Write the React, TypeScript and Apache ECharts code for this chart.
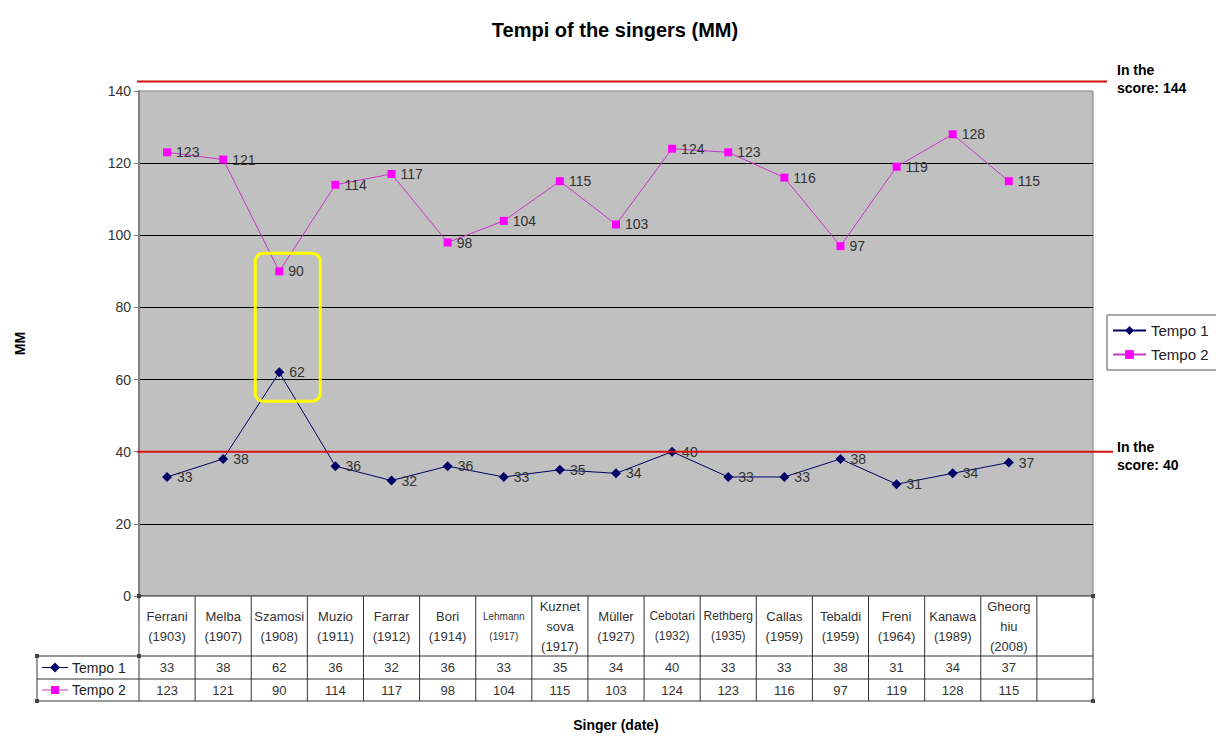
import React, { useEffect, useRef } from "react";
import * as echarts from "echarts";

const categories = [
  "Ferrani\n(1903)", "Melba\n(1907)", "Szamosi\n(1908)", "Muzio\n(1911)", "Farrar\n(1912)",
  "Bori\n(1914)", "Lehmann\n(1917)", "Kuznet\nsova\n(1917)", "Müller\n(1927)", "Cebotari\n(1932)",
  "Rethberg\n(1935)", "Callas\n(1959)", "Tebaldi\n(1959)", "Freni\n(1964)", "Kanawa\n(1989)",
  "Gheorg\nhiu\n(2008)", "",
];
const tempo1 = [33, 38, 62, 36, 32, 36, 33, 35, 34, 40, 33, 33, 38, 31, 34, 37];
const tempo2 = [123, 121, 90, 114, 117, 98, 104, 115, 103, 124, 123, 116, 97, 119, 128, 115];
const seriesNames = ["Tempo 1", "Tempo 2"];
const scoreTempi = [144, 40];
const scoreLabels = ["In the\nscore: 144", "In the\nscore: 40"];
const highlightIndex = 2;
const highlightRange = [54, 95];

const FONT = "'Liberation Sans', Arial, sans-serif";
const NAVY = "#000066";
const MAGENTA = "#ff00ff";
const MAGENTA_LINE = "#cc33cc";

export default function App() {
  const ref = useRef<HTMLDivElement>(null);
  useEffect(() => {
    document.body.style.margin = "0";
    const chart = echarts.init(ref.current!, null, { renderer: "svg" });
    const labelStyle = {
      show: true,
      position: "right",
      distance: 5,
      fontSize: 14,
      color: "#333",
      fontFamily: FONT,
    };
    chart.setOption({
      animation: false,
      backgroundColor: "#fff",
      title: {
        text: "Tempi of the singers (MM)",
        left: 610,
        textAlign: "center",
        top: 15,
        textStyle: { fontSize: 20, fontWeight: "bold", color: "#000", fontFamily: FONT },
      },
      legend: {
        orient: "vertical",
        left: 1107,
        top: 315,
        borderColor: "#555",
        borderWidth: 1,
        padding: [8, 12, 8, 5],
        itemGap: 9,
        itemWidth: 33,
        itemHeight: 11,
        textStyle: { fontSize: 15, color: "#222", fontFamily: FONT },
        data: seriesNames,
      },
      grid: {
        left: 139,
        top: 91,
        right: 123,
        bottom: 142,
        show: true,
        backgroundColor: "#c0c0c0",
        borderColor: "#808080",
        borderWidth: 1,
      },
      xAxis: {
        type: "category",
        data: categories,
        boundaryGap: true,
        axisLine: { show: false },
        axisTick: { show: false },
        axisLabel: { show: false },
        name: "Singer (date)",
        nameLocation: "middle",
        nameGap: 122,
        nameTextStyle: { fontSize: 14, fontWeight: "bold", color: "#000", fontFamily: FONT },
      },
      yAxis: {
        type: "value",
        min: 0,
        max: 140,
        interval: 20,
        name: "MM",
        nameLocation: "middle",
        nameGap: 112,
        nameRotate: 90,
        nameTextStyle: { fontSize: 14, fontWeight: "bold", color: "#000", fontFamily: FONT },
        axisLine: { show: true, lineStyle: { color: "#808080", width: 2 } },
        axisTick: { show: true, length: 5, lineStyle: { color: "#808080" } },
        axisLabel: { fontSize: 14, color: "#333", margin: 8, fontFamily: FONT },
        splitLine: { show: true, showMaxLine: false, showMinLine: false, lineStyle: { color: "#000", width: 1 } },
      },
      series: [
        {
          name: seriesNames[0],
          type: "line",
          data: tempo1,
          symbol: "diamond",
          symbolSize: 10,
          itemStyle: { color: NAVY },
          lineStyle: { color: NAVY, width: 1 },
          label: labelStyle,
        },
        {
          name: seriesNames[1],
          type: "line",
          data: tempo2,
          symbol: "rect",
          symbolSize: 8,
          itemStyle: { color: MAGENTA },
          lineStyle: { color: MAGENTA_LINE, width: 1 },
          label: labelStyle,
        },
      ],
    });

    const px = (i: number, v: number) => chart.convertToPixel({ gridIndex: 0 }, [i, v]) as number[];
    const x0 = px(0, 0)[0];
    const x1 = px(1, 0)[0];
    const colW = x1 - x0;
    const yZero = px(0, 0)[1];
    const yTopGrid = px(0, 140)[1];
    const tableLeft = 37;
    const gridLeft = x0 - colW / 2;
    const tableRight = gridLeft + colW * categories.length;
    const rowHeader = yZero + 60;
    const row1 = rowHeader + 23;
    const row2 = row1 + 22;

    const g: any[] = [];
    g.push({
      type: "rect",
      shape: { x: gridLeft, y: yZero, width: tableRight - gridLeft, height: row2 - yZero },
      style: { fill: "#fff", stroke: "none" },
      z: 1,
    });
    g.push({
      type: "rect",
      shape: { x: tableLeft, y: rowHeader, width: gridLeft - tableLeft, height: row2 - rowHeader },
      style: { fill: "#fff", stroke: "none" },
      z: 1,
    });
    const lineStyle = { stroke: "#333", lineWidth: 1 };
    [yZero, rowHeader, row1, row2].forEach((yy, k) => {
      g.push({
        type: "line",
        shape: { x1: k === 0 ? gridLeft : tableLeft, y1: yy, x2: tableRight, y2: yy },
        style: lineStyle,
        z: 2,
      });
    });
    g.push({ type: "line", shape: { x1: tableLeft, y1: rowHeader, x2: tableLeft, y2: row2 }, style: lineStyle, z: 2 });
    for (let c = 0; c <= categories.length; c++) {
      const xx = gridLeft + c * colW;
      g.push({ type: "line", shape: { x1: xx, y1: yZero, x2: xx, y2: row2 }, style: lineStyle, z: 2 });
    }
    [[tableLeft, rowHeader], [tableLeft, row2], [tableRight, yZero], [tableRight, row2], [gridLeft, yZero], [gridLeft, rowHeader]].forEach(
      ([hx, hy]) => {
        g.push({ type: "rect", shape: { x: hx - 2, y: hy - 2, width: 4, height: 4 }, style: { fill: "#444" }, z: 3 });
      }
    );
    const headerSize: Record<number, number> = { 6: 10, 9: 12, 10: 12 };
    categories.forEach((cat, i) => {
      if (!cat) return;
      const cx = px(i, 0)[0];
      g.push({
        type: "text",
        x: cx,
        y: (yZero + rowHeader) / 2,
        style: {
          text: cat,
          fontSize: headerSize[i] ?? 13,
          fontFamily: FONT,
          fill: "#333",
          align: "center",
          verticalAlign: "middle",
          lineHeight: 20,
        },
        z: 3,
      });
    });
    [tempo1, tempo2].forEach((arr, s) => {
      const yy = s === 0 ? (rowHeader + row1) / 2 : (row1 + row2) / 2;
      arr.forEach((v, i) => {
        g.push({
          type: "text",
          x: px(i, 0)[0],
          y: yy,
          style: { text: String(v), fontSize: 13, fontFamily: FONT, fill: "#333", align: "center", verticalAlign: "middle" },
          z: 3,
        });
      });
      const col = s === 0 ? NAVY : MAGENTA_LINE;
      g.push({ type: "line", shape: { x1: 42, y1: yy, x2: 68, y2: yy }, style: { stroke: col, lineWidth: 1 }, z: 3 });
      if (s === 0) {
        g.push({ type: "polygon", shape: { points: [[55, yy - 5], [60, yy], [55, yy + 5], [50, yy]] }, style: { fill: NAVY }, z: 4 });
      } else {
        g.push({ type: "rect", shape: { x: 51, y: yy - 4, width: 8, height: 8 }, style: { fill: MAGENTA }, z: 4 });
      }
      g.push({
        type: "text",
        x: 72,
        y: yy,
        style: { text: seriesNames[s], fontSize: 14, fontFamily: FONT, fill: "#222", align: "left", verticalAlign: "middle" },
        z: 3,
      });
    });

    scoreTempi.forEach((v, k) => {
      const yy = k === 0 ? Math.min(px(0, v)[1], yTopGrid) + (yTopGrid - px(0, v)[1] > 0 ? 5 : 0) : px(0, v)[1];
      const xEnd = k === 0 ? tableRight + 14 : tableRight + 20;
      g.push({
        type: "line",
        shape: { x1: gridLeft - 2, y1: yy, x2: xEnd, y2: yy },
        style: { stroke: "#d81010", lineWidth: 2 },
        z: 5,
      });
      g.push({
        type: "text",
        x: 1117,
        y: k === 0 ? yy - 3 : yy + 4,
        style: {
          text: scoreLabels[k],
          fontSize: 14,
          fontWeight: "bold",
          fontFamily: FONT,
          fill: "#000",
          align: "left",
          verticalAlign: "middle",
          lineHeight: 18,
        },
        z: 5,
      });
    });

    const cx = px(highlightIndex, 0)[0];
    const yTop = px(highlightIndex, highlightRange[1])[1];
    const yBot = px(highlightIndex, highlightRange[0])[1];
    g.push({
      type: "rect",
      shape: { x: cx - 24, y: yTop, width: 65, height: yBot - yTop, r: 8 },
      style: { fill: "none", stroke: "#ffff00", lineWidth: 3 },
      z: 6,
    });

    chart.setOption({ graphic: g });
    return () => chart.dispose();
  }, []);
  return <div ref={ref} style={{ width: 1216, height: 738 }} />;
}
